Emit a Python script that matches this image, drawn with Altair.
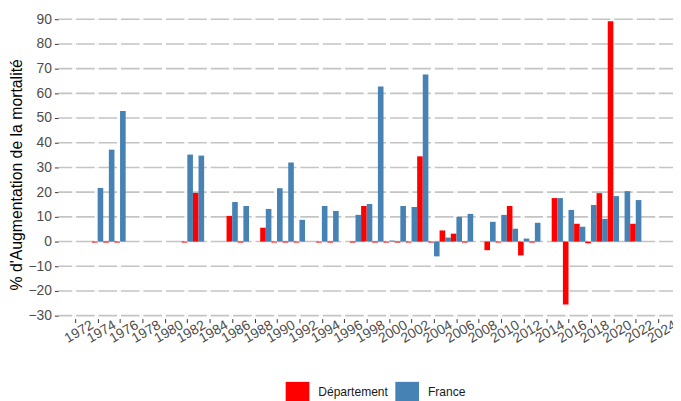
import altair as alt
import pandas as pd

years = [1974, 1975, 1976, 1982, 1983, 1986, 1987, 1989, 1990, 1991, 1992, 1994, 1995,
         1997, 1998, 1999, 2000, 2001, 2002, 2003, 2004, 2005, 2006, 2007, 2009, 2010,
         2011, 2012, 2013, 2015, 2016, 2017, 2018, 2019, 2020, 2021, 2022]
departement = [-0.4, -0.4, -0.4, -0.4, 19.7, 10.4, -0.4, 5.6, -0.4, -0.4, -0.4, -0.4, -0.4,
               -0.4, 14.4, -0.4, -0.4, -0.4, -0.4, 34.5, -0.4, 4.5, 3.2, -0.4, -3.5, -0.4,
               14.4, -5.6, -0.4, 17.6, -25.5, 7.2, -0.7, 19.6, 89.2, None, 7.2]
france = [21.7, 37.2, 52.8, 35.2, 34.8, 16.0, 14.4, 13.2, 21.6, 32.0, 8.8, 14.4, 12.4,
          10.8, 15.2, 62.8, 0.4, 14.4, 14.0, 67.6, -6.0, 1.6, 10.0, 11.2, 8.0, 10.8,
          5.2, 1.2, 7.6, 17.6, 12.8, 6.0, 14.8, 9.2, 18.4, 20.4, 16.8]
series = ["Département", "France"]
colors = ["#FF0000", "#4682B4"]
x_ticks = list(range(1972, 2025, 2))
y_ticks = list(range(-30, 91, 10))

rows = []
for y, d, f in zip(years, departement, france):
    if d is not None:
        rows.append({"year": y, "series": series[0], "value": d})
    if f is not None:
        rows.append({"year": y, "series": series[1], "value": f})
df = pd.DataFrame(rows)

FONT = "Liberation Sans"
xscale = alt.Scale(domain=[1970.5, 2025.32], nice=False, zero=False)
yscale = alt.Scale(domain=[-31.2, 93.6], nice=False, zero=False)

xaxis = alt.Axis(values=x_ticks, format="d", title=None, grid=False, domain=False,
                 tickSize=4, tickColor="#333333", tickWidth=1,
                 labelAngle=-30, labelAlign="center", labelBaseline="top",
                 labelPadding=3, labelFontSize=14, labelColor="#4d4d4d",
                 labelFont=FONT, labelOverlap=False, labelFlush=False)
yaxis = alt.Axis(values=y_ticks, title="% d'Augmentation de la mortalité", grid=False,
                 domain=False, tickSize=4, tickColor="#333333", tickWidth=1,
                 labelPadding=3, labelFontSize=14, labelColor="#4d4d4d", labelFont=FONT,
                 titleFont=FONT, titleFontSize=16, titleFontWeight="normal",
                 titleColor="#000000", titleAngle=270, titleAlign="center",
                 titleBaseline="middle", titleX=-42, titleY=166, labelOverlap=False)

hgrid = alt.Chart(pd.DataFrame({"v": y_ticks})).mark_rule(
    color="#c4c4c4", strokeWidth=1.6, strokeDash=[20.69, 2.0], strokeDashOffset=4.69
).encode(y=alt.Y("v:Q", scale=yscale, axis=yaxis))

vgrid = alt.Chart(pd.DataFrame({"t": x_ticks})).mark_rule(
    color="#ffffff", strokeWidth=1.8
).encode(x=alt.X("t:Q", scale=xscale, axis=xaxis))

bars = alt.Chart(df).transform_calculate(
    x0="datum.year - 0.5 + (datum.series == 'France' ? 0.5 : 0)"
).transform_calculate(
    x1="datum.x0 + 0.5"
).mark_bar().encode(
    x=alt.X("x0:Q", scale=xscale, axis=xaxis),
    x2="x1:Q",
    y=alt.Y("value:Q", scale=yscale, axis=yaxis),
    y2=alt.datum(0),
    color=alt.Color("series:N", scale=alt.Scale(domain=series, range=colors),
                    legend=alt.Legend(orient="none", legendX=232, legendY=376,
                                      direction="horizontal", title=None,
                                      symbolType="M-1.2,-1H1.2V1H-1.2Z",
                                      symbolSize=400, symbolStrokeWidth=0,
                                      symbolOpacity=1,
                                      labelFont=FONT, labelFontSize=12.2,
                                      labelColor="#1a1a1a", labelOffset=11,
                                      columnPadding=7, padding=0)),
)

chart = alt.layer(hgrid, vgrid, bars).properties(
    width=622, height=312,
    autosize=alt.AutoSizeParams(type="none"),
    padding={"left": 51, "right": 0, "top": 0, "bottom": 81},
    background="white",
).configure_view(stroke=None)

chart.save("out.html", embed_options={"renderer": "svg", "actions": False})
